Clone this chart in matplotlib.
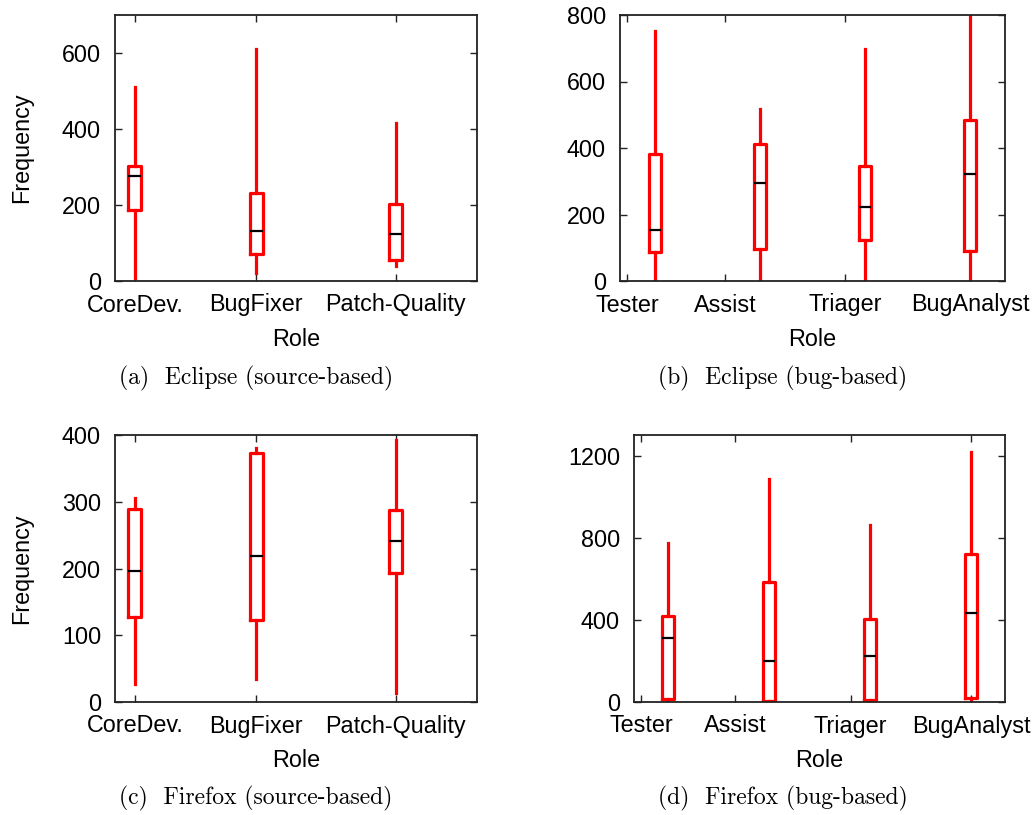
import matplotlib
matplotlib.use('Agg')
import matplotlib.pyplot as plt

# ── Data ──────────────────────────────────────────────────────────────────────

src_roles = ["CoreDev.", "BugFixer", "Patch-Quality"]
bug_roles = ["Tester", "Assist", "Triager", "BugAnalyst"]

# (a) Eclipse, source-based
ecl_src_lo  = [9, 21, 39]
ecl_src_q1  = [188, 72, 55]
ecl_src_med = [276, 131, 123]
ecl_src_q3  = [302, 231, 203]
ecl_src_hi  = [510, 610, 416]

# (b) Eclipse, bug-based
ecl_bug_lo  = [0, 0, 0, 0]
ecl_bug_q1  = [86, 97, 123, 90]
ecl_bug_med = [154, 296, 223, 322]
ecl_bug_q3  = [381, 411, 345, 484]
ecl_bug_hi  = [752, 518, 698, 860]

# (c) Firefox, source-based
ff_src_lo  = [27, 35, 13]
ff_src_q1  = [128, 123, 194]
ff_src_med = [196, 218, 241]
ff_src_q3  = [289, 373, 287]
ff_src_hi  = [306, 380, 392]

# (d) Firefox, bug-based
ff_bug_lo  = [0, 0, 0, 3]
ff_bug_q1  = [13, 5, 8, 18]
ff_bug_med = [310, 199, 222, 432]
ff_bug_q3  = [421, 586, 405, 723]
ff_bug_hi  = [776, 1088, 860, 1217]

# ── Layout (pixels in a 1033x815 canvas) ──────────────────────────────────────

W, H = 1033, 815
RED = '#ff0000'
SANS = 'Liberation Sans'
FS = 16.8

plt.rcParams['font.family'] = SANS

fig = plt.figure(figsize=(W / 100, H / 100), dpi=100)

def px_axes(x0, x1, y0, y1):
    return fig.add_axes([x0 / W, 1 - y1 / H, (x1 - x0) / W, (y1 - y0) / H])

# box centres and tick positions as axes fractions
src_box_x  = [0.055, 0.39, 0.776]
src_tick_x = [0.055, 0.39, 0.776]
bug_box_x  = [0.091, 0.364, 0.636, 0.909]
bug_tick_x = [0.019, 0.273, 0.584, 0.909]


def panel(ax, roles, lo, q1, med, q3, hi, box_x, tick_x, ymax, yticks, box_w, ylabel):
    stats = [dict(whislo=a, q1=b, med=c, q3=d, whishi=e, label=r)
             for r, a, b, c, d, e in zip(roles, lo, q1, med, q3, hi)]
    ax.bxp(stats, positions=box_x, widths=box_w, showcaps=False, showfliers=False,
           manage_ticks=False,
           boxprops=dict(color=RED, linewidth=2.3),
           whiskerprops=dict(color=RED, linewidth=2.3),
           medianprops=dict(color='black', linewidth=1.6, solid_capstyle='butt'))
    ax.set_xlim(0, 1)
    ax.set_ylim(0, ymax)
    ax.set_xticks(tick_x)
    ax.set_xticklabels(roles)
    ax.set_yticks(yticks)
    ax.tick_params(direction='in', length=5, width=1, top=True, right=True,
                   labelsize=FS, colors='#222222', labelcolor='black')
    ax.tick_params(axis='x', pad=9)
    ax.tick_params(axis='y', pad=10)
    for s in ax.spines.values():
        s.set_linewidth(1.3)
        s.set_color('#222222')
    ax.set_xlabel('Role', fontsize=FS, va='center')
    ax.xaxis.set_label_coords(0.5, -58 / 266)
    if ylabel:
        ax.set_ylabel('Frequency', fontsize=FS, va='center')
        ax.yaxis.set_label_coords(-93 / 362, 0.5)


ax_a = px_axes(115, 477, 15, 281)
panel(ax_a, src_roles, ecl_src_lo, ecl_src_q1, ecl_src_med, ecl_src_q3, ecl_src_hi,
      src_box_x, src_tick_x, 700, [0, 200, 400, 600], 0.036, True)

ax_b = px_axes(620, 1005, 15, 281)
panel(ax_b, bug_roles, ecl_bug_lo, ecl_bug_q1, ecl_bug_med, ecl_bug_q3, ecl_bug_hi,
      bug_box_x, bug_tick_x, 800, [0, 200, 400, 600, 800], 0.032, False)

ax_c = px_axes(115, 477, 435, 702)
panel(ax_c, src_roles, ff_src_lo, ff_src_q1, ff_src_med, ff_src_q3, ff_src_hi,
      src_box_x, src_tick_x, 400, [0, 100, 200, 300, 400], 0.036, True)

ax_d = px_axes(634, 1005, 435, 702)
panel(ax_d, bug_roles, ff_bug_lo, ff_bug_q1, ff_bug_med, ff_bug_q3, ff_bug_hi,
      bug_box_x, bug_tick_x, 1300, [0, 400, 800, 1200], 0.032, False)

# ── Sub-captions ──────────────────────────────────────────────────────────────

captions = ["(a)  Eclipse (source-based)", "(b)  Eclipse (bug-based)",
            "(c)  Firefox (source-based)", "(d)  Firefox (bug-based)"]
cap_xy = [(256, 378), (783, 378), (256, 798), (783, 798)]
for txt, (cx, cy) in zip(captions, cap_xy):
    fig.text(cx / W, 1 - cy / H, txt, family='cmr10', fontsize=17,
             ha='center', va='center')

plt.savefig('out.png', dpi=100)
